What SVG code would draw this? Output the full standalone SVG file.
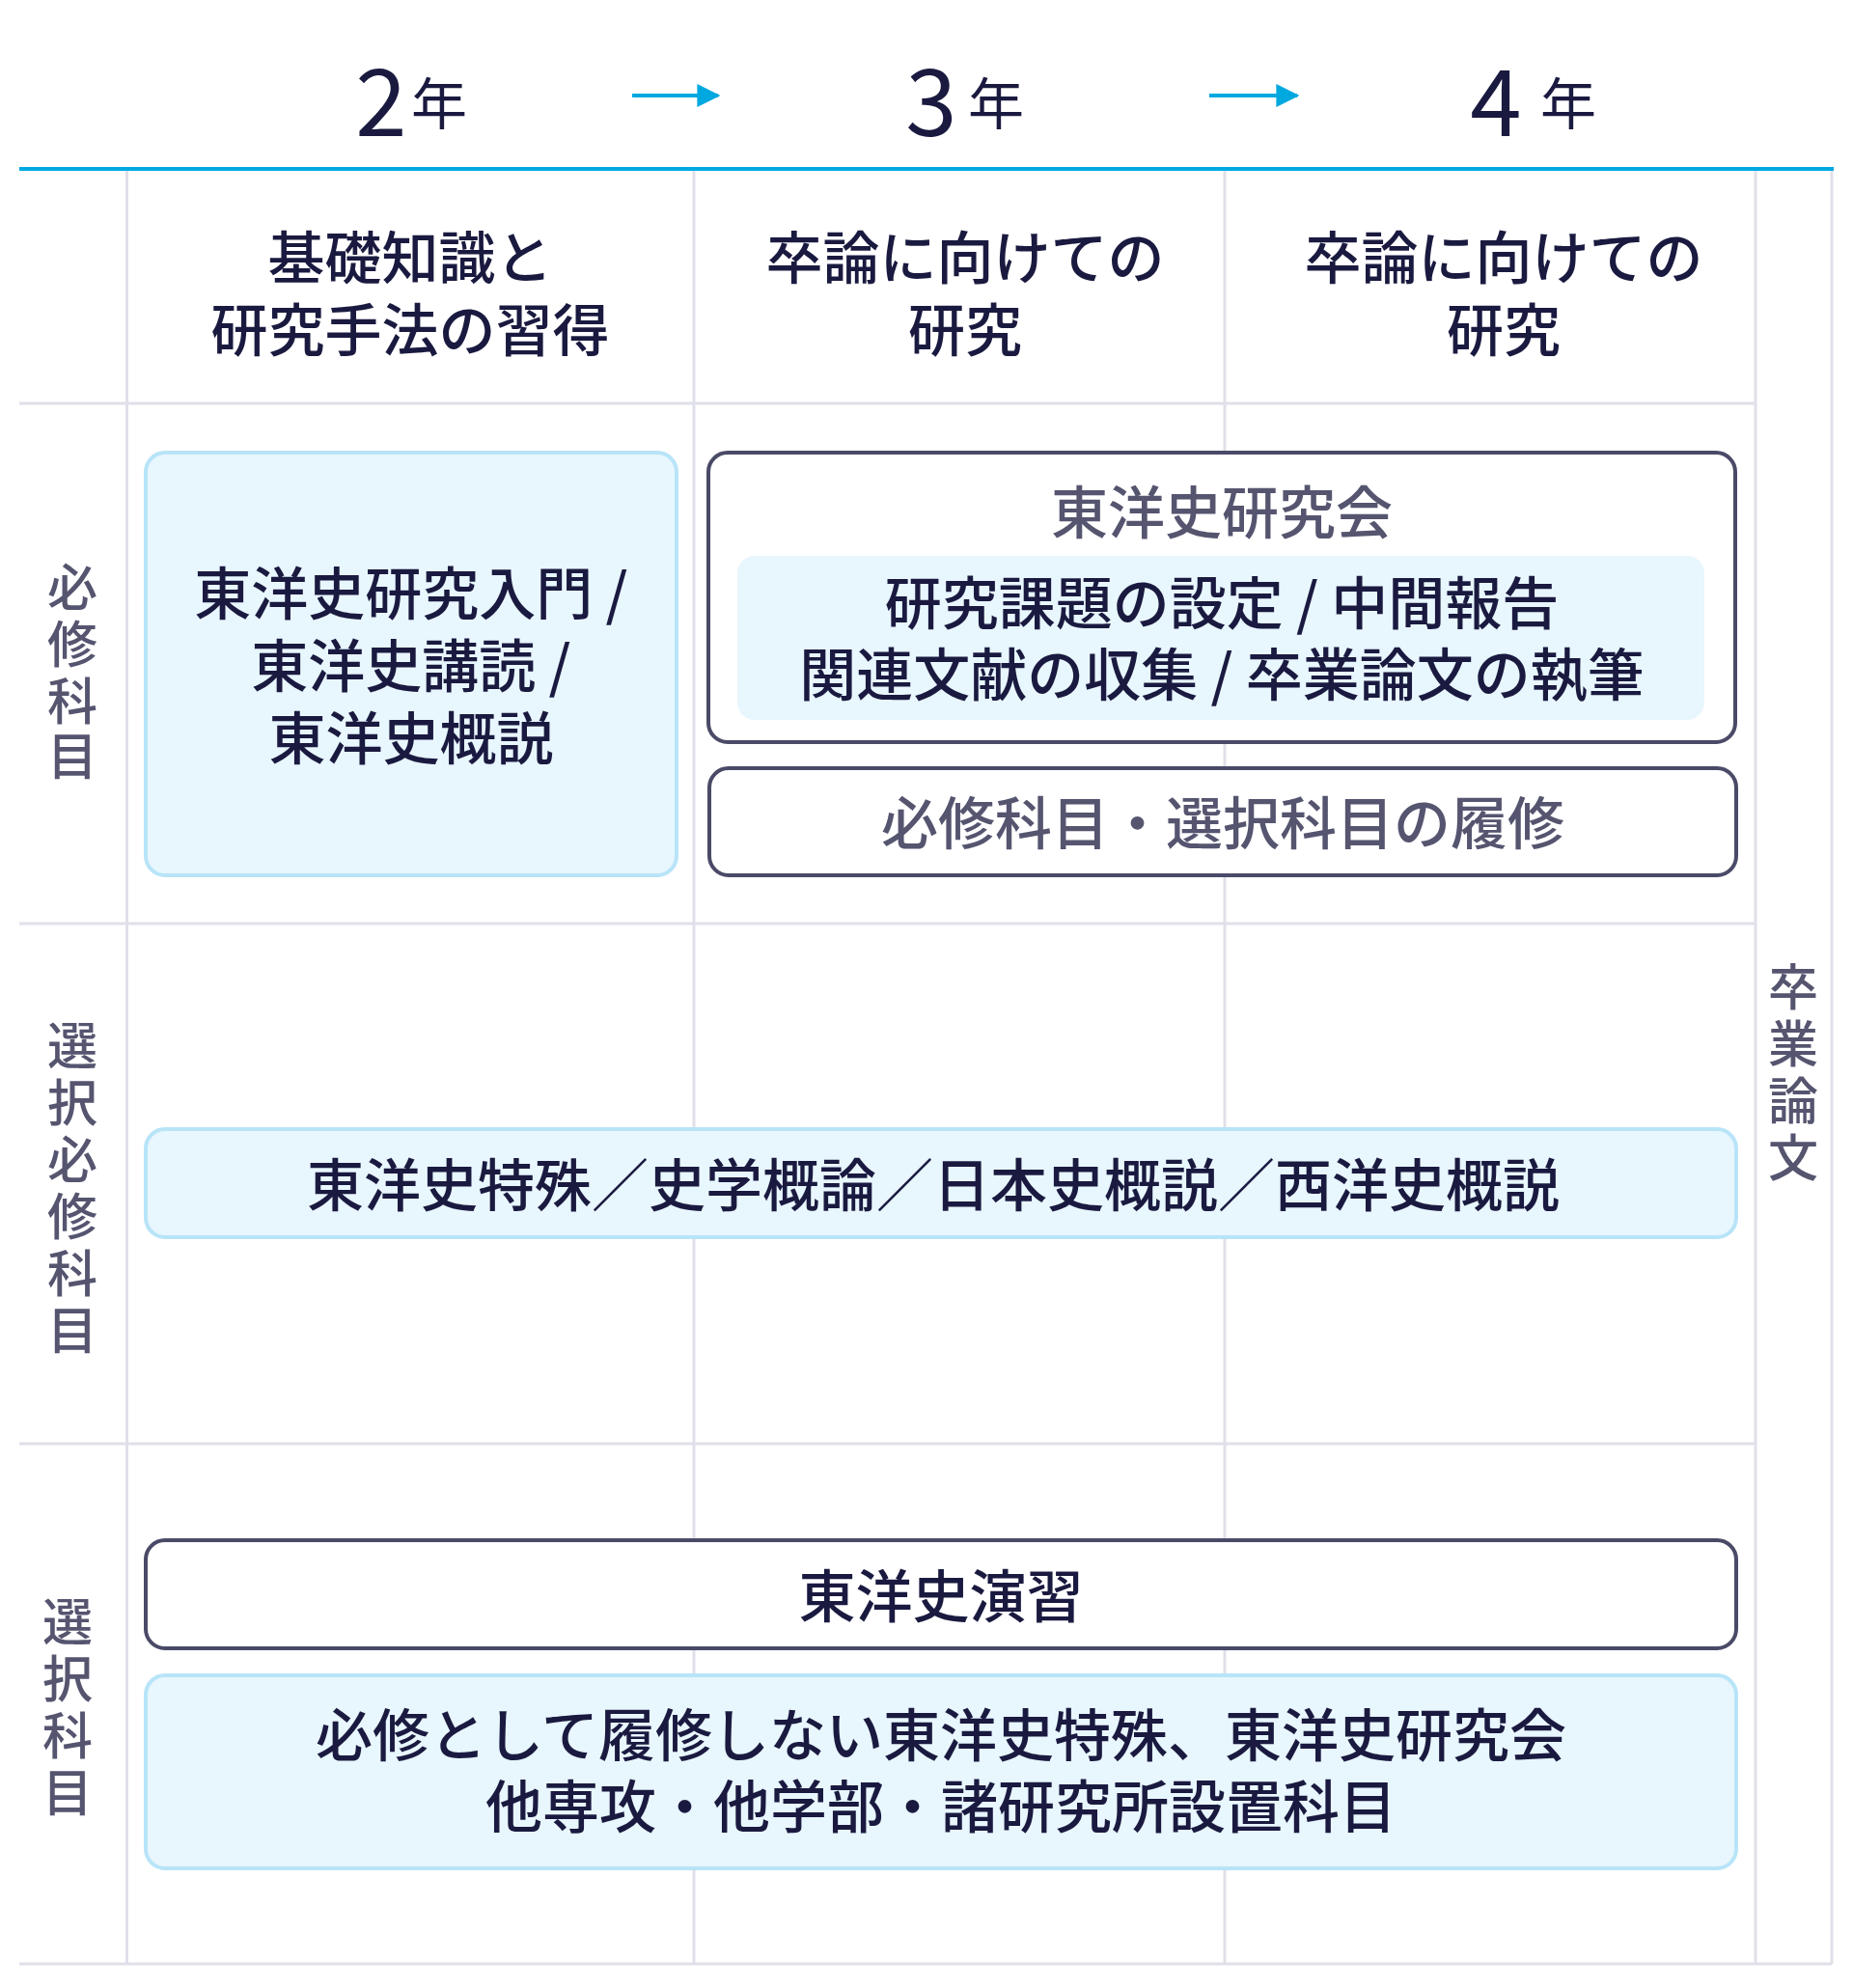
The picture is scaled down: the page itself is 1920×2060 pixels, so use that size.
<svg xmlns="http://www.w3.org/2000/svg" width="1920" height="2060" viewBox="0 0 1920 2060">
<style>
text{font-family:"Noto Sans CJK JP","Noto Sans",sans-serif;dominant-baseline:central;text-anchor:middle}
.d{fill:#1a1a40;font-size:59px;font-weight:500}
.g{fill:#555570;font-size:59px;font-weight:500}
.v{fill:#555570;font-size:52px;font-weight:500}
.grid{stroke:#e0e0ea;stroke-width:3;fill:none}
.lb{fill:#e8f6fd;stroke:#b8e4f8;stroke-width:4}
.wb{fill:#fff;stroke:#4a4a68;stroke-width:4}
.yr{fill:#1a1a40;font-weight:400}
</style>
<defs><marker id="ah" viewBox="0 0 10 10" refX="9" refY="5" markerWidth="6" markerHeight="6" orient="auto"><path d="M0,0 L10,5 L0,10 Z" fill="#00a8e0"/></marker></defs>
<rect width="1920" height="2060" fill="#fff"/>
<g id="grid">
<path class="grid" d="M131.5 177V2035M719 177V2035M1269 177V2035M1819 177V2035M1898 177V2035M20 418H1819M20 957H1819M20 1496H1819M20 2035H1898"/>
<line x1="20" y1="175" x2="1900" y2="175" stroke="#00a8e0" stroke-width="4"/>
</g>
<g id="years">
<text class="yr" x="395" y="99" font-size="96">2</text><text class="yr" x="455" y="104" font-size="58" font-weight="500">年</text>
<text class="yr" x="965" y="99" font-size="96">3</text><text class="yr" x="1032" y="104" font-size="58" font-weight="500">年</text>
<text class="yr" x="1550" y="99" font-size="96">4</text><text class="yr" x="1625" y="104" font-size="58" font-weight="500">年</text>
</g>
<g id="connectors">
<line x1="655" y1="99" x2="744" y2="99" stroke="#00a8e0" stroke-width="4" marker-end="url(#ah)"/>
<line x1="1253" y1="99" x2="1344" y2="99" stroke="#00a8e0" stroke-width="4" marker-end="url(#ah)"/>
</g>
<g id="headers">
<text class="d" x="425" y="263">基礎知識と</text><text class="d" x="425" y="338">研究手法の習得</text>
<text class="d" x="1000" y="263">卒論に向けての</text><text class="d" x="1000" y="338">研究</text>
<text class="d" x="1558" y="263">卒論に向けての</text><text class="d" x="1558" y="338">研究</text>
</g>
<g id="rowlabels">
<text class="v" x="75" y="605">必</text><text class="v" x="75" y="664">修</text><text class="v" x="75" y="723">科</text><text class="v" x="75" y="780">目</text>
<text class="v" x="75" y="1080">選</text><text class="v" x="75" y="1139">択</text><text class="v" x="75" y="1198">必</text><text class="v" x="75" y="1257">修</text><text class="v" x="75" y="1316">科</text><text class="v" x="75" y="1375">目</text>
<text class="v" x="70" y="1677">選</text><text class="v" x="70" y="1736">択</text><text class="v" x="70" y="1795">科</text><text class="v" x="70" y="1854">目</text>
<text class="v" x="1858" y="1019">卒</text><text class="v" x="1858" y="1078">業</text><text class="v" x="1858" y="1137">論</text><text class="v" x="1858" y="1196">文</text>
</g>
<g id="box1"><rect class="lb" x="151" y="469" width="550" height="438" rx="20"/>
<text class="d" x="426" y="611">東洋史研究入門 /</text><text class="d" x="426" y="686">東洋史講読 /</text><text class="d" x="426" y="761">東洋史概説</text></g>
<g id="box2"><rect class="wb" x="734" y="469" width="1064" height="300" rx="20"/>
<text class="g" x="1266" y="527">東洋史研究会</text>
<rect x="764" y="576" width="1002" height="170" rx="18" fill="#e8f6fd"/>
<text class="d" x="1266" y="621">研究課題の設定 / 中間報告</text><text class="d" x="1266" y="695">関連文献の収集 / 卒業論文の執筆</text></g>
<g id="box3"><rect class="wb" x="735" y="796" width="1064" height="111" rx="20"/>
<text class="g" x="1267" y="849">必修科目・選択科目の履修</text></g>
<g id="box4"><rect class="lb" x="151" y="1170" width="1648" height="112" rx="20"/>
<text class="d" x="967" y="1224">東洋史特殊／史学概論／日本史概説／西洋史概説</text></g>
<g id="box5"><rect class="wb" x="151" y="1596" width="1648" height="112" rx="20"/>
<text class="d" x="975" y="1650">東洋史演習</text></g>
<g id="box6"><rect class="lb" x="151" y="1736" width="1648" height="200" rx="20"/>
<text class="d" x="975" y="1794">必修として履修しない東洋史特殊、東洋史研究会</text><text class="d" x="975" y="1868">他専攻・他学部・諸研究所設置科目</text></g>
</svg>
